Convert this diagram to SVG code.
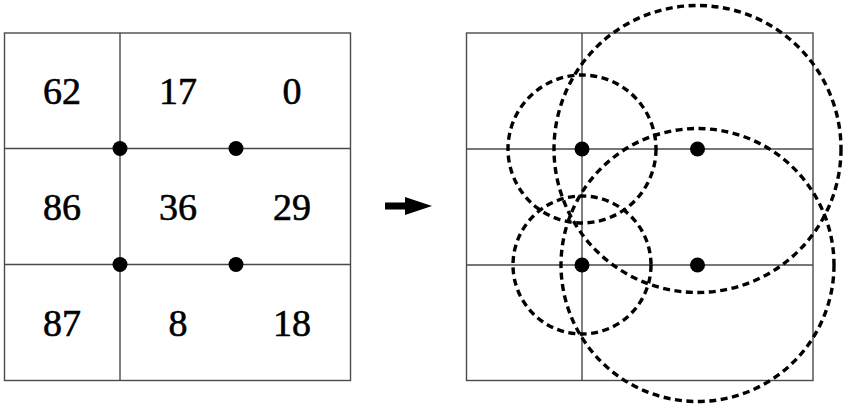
<svg xmlns="http://www.w3.org/2000/svg" width="843" height="405" viewBox="0 0 843 405">
<style>
.grid{fill:none;stroke:#4a4a4a;stroke-width:1.4}
.dot{fill:#000}
.num{font-family:"Liberation Serif","Times New Roman",serif;font-size:38px;fill:#000;stroke:#000;stroke-width:0.6;text-anchor:middle}
.ring{fill:none;stroke:#000;stroke-width:3.4;stroke-dasharray:7,4.5}
</style>
<rect width="843" height="405" fill="#fff"/>
<g id="left-grid">
<rect class="grid" x="4.5" y="33" width="346" height="347.5"/>
<line class="grid" x1="120" y1="33" x2="120" y2="380.5"/>
<line class="grid" x1="4.5" y1="148.5" x2="350.5" y2="148.5"/>
<line class="grid" x1="4.5" y1="264.5" x2="350.5" y2="264.5"/>
</g>
<g id="left-values">
<text class="num" x="62" y="104">62</text>
<text class="num" x="178" y="104">17</text>
<text class="num" x="292" y="104">0</text>
<text class="num" x="62" y="220">86</text>
<text class="num" x="178" y="220">36</text>
<text class="num" x="292" y="220">29</text>
<text class="num" x="62" y="336">87</text>
<text class="num" x="178" y="336">8</text>
<text class="num" x="292" y="336">18</text>
</g>
<g id="left-dots">
<circle class="dot" cx="120" cy="148.5" r="7.5"/>
<circle class="dot" cx="236" cy="148.5" r="7.5"/>
<circle class="dot" cx="120" cy="264.5" r="7.5"/>
<circle class="dot" cx="236" cy="264.5" r="7.5"/>
</g>
<g id="arrow">
<rect x="385" y="202.5" width="21" height="7" fill="#000"/>
<polygon points="405,197 432,206 405,215" fill="#000"/>
</g>
<g id="right-grid">
<rect class="grid" x="466.5" y="33" width="346.5" height="347.5"/>
<line class="grid" x1="582" y1="33" x2="582" y2="380.5"/>
<line class="grid" x1="466.5" y1="149" x2="813" y2="149"/>
<line class="grid" x1="466.5" y1="265" x2="813" y2="265"/>
</g>
<g id="right-dots">
<circle class="dot" cx="582" cy="149" r="7.5"/>
<circle class="dot" cx="697.5" cy="149" r="7.5"/>
<circle class="dot" cx="582" cy="265" r="7.5"/>
<circle class="dot" cx="697.5" cy="265" r="7.5"/>
</g>
<g id="circles">
<circle class="ring" cx="582" cy="149" r="74"/>
<circle class="ring" cx="582" cy="265" r="69"/>
<circle class="ring" cx="697.5" cy="149" r="143.5"/>
<circle class="ring" cx="697.5" cy="265" r="136.5"/>
</g>
</svg>
